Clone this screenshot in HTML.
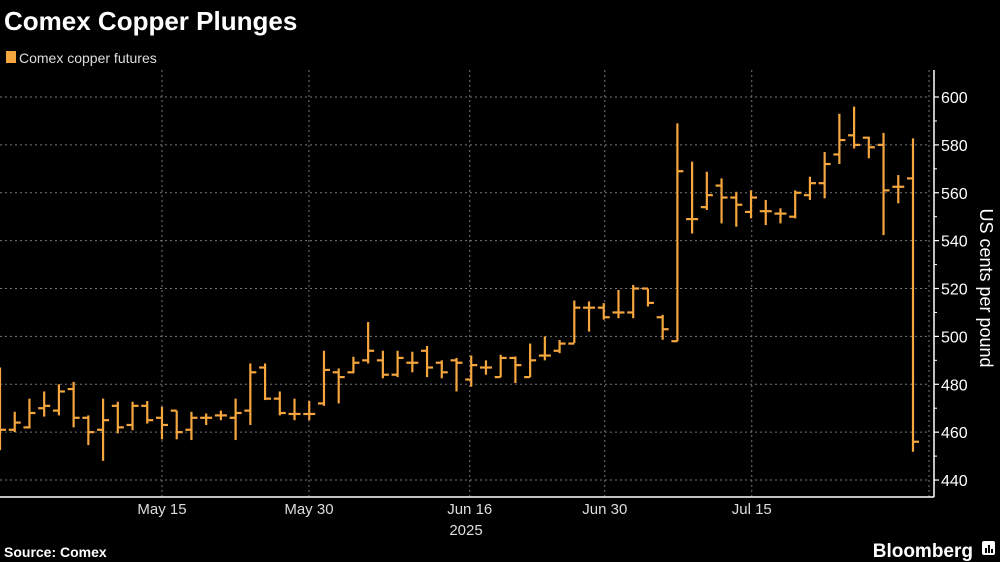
<!DOCTYPE html>
<html><head><meta charset="utf-8">
<style>
html,body{margin:0;padding:0;background:#000;}
body{width:1000px;height:562px;overflow:hidden;font-family:"Liberation Sans",sans-serif;}
</style></head>
<body>
<svg id="chart" width="1000" height="562" xmlns="http://www.w3.org/2000/svg" style="display:block;background:#000">
<text x="4" y="30" fill="#fff" font-family="Liberation Sans, sans-serif" font-weight="bold" font-size="26">Comex Copper Plunges</text>
<rect x="6" y="51" width="10" height="12" fill="#f5a63f"/>
<text x="19" y="63" fill="#ddd" font-family="Liberation Sans, sans-serif" font-size="14">Comex copper futures</text>
<g id="grid"></g>
<g id="axes"></g>
<g id="bars"></g>
<text transform="translate(980,288) rotate(90)" text-anchor="middle" fill="#fff" font-family="Liberation Sans, sans-serif" font-size="18">US cents per pound</text>
<text x="466" y="535" text-anchor="middle" fill="#ddd" font-family="Liberation Sans, sans-serif" font-size="15">2025</text>
<text x="4" y="557" fill="#fff" font-family="Liberation Sans, sans-serif" font-weight="bold" font-size="14">Source: Comex</text>
<text x="973" y="557" text-anchor="end" fill="#fff" font-family="Liberation Sans, sans-serif" font-weight="bold" font-size="19">Bloomberg</text>
<g>
<rect x="982" y="541" width="13" height="14" rx="2" fill="#fff"/>
<rect x="985" y="548" width="2" height="5" fill="#000"/><rect x="988" y="545" width="2" height="8" fill="#000"/><rect x="991" y="549" width="2" height="4" fill="#000"/>
</g>
</svg>
<script>
const opens  =[470,461,462,470,469,478,466,461,471,463,471,466,469,461,466,467,466,469,487,474,467.6,467.6,472,485,485,490,490,484,489,494,489,490,482,487,483,491,483,492,494,497,512,512,510,510,520,508,498,549,554,563,558,552,552.3,551.3,550,559,564,576,584,583,580,562.5,566];
const highs  =[487,468.5,474,477,480,481,467,474,472.7,472.7,473,470.6,469,468.5,467.8,469,474,488.7,488.7,477,474,473,494,486.6,491.5,506,494,494,493.6,496,490,491,492,490,492.3,491.6,497,500,498.5,515,514.6,513.9,519.4,521.5,520,509,589,573,568.8,566,560.4,561,557,553.5,561,566.7,577,593,596,583.4,585,567.4,582.7];
const lows   =[452.5,460,461.5,466.5,467,462,454.6,448,459.5,460.8,463.6,457,457,456.7,463,465,456.7,463,473.4,467,465,465,471,472,484.6,488.7,482.5,483,485,483,482.5,477,479,484,483,480.5,483,490,493,497.2,502,507,507.6,507.6,512.5,498.6,497.9,543,552.8,547.2,545.8,549.3,546.5,547.2,549.3,557,557.7,572,578.5,574.4,542.3,555.6,451.8];
const closes =[461,464,468,471,477,466,460,465,462,471,465,463,460,466,466,467,468,485,474,468,467.6,467.6,486,483,489,494,484,491,489,487,485,489,488,487,491,488,490,492,497,512,512,508,510,520,514,503,569,549,559,558,555,558,552.3,551.3,560,564,572,582,580,579,561,562.5,456];
const yTicks=[440,460,480,500,520,540,560,580,600];
const xTickLabels=["May 15","May 30","Jun 16","Jun 30","Jul 15"];
const xTickIdx=[11.0,20.98,31.9,41.07,51.05];

const NS="http://www.w3.org/2000/svg";
const x0=0, step=913/(opens.length-1);
function xs(i){return x0+i*step;}
function ys(v){return 97+(600-v)*2.394;}
function mk(tag,attrs,parent){const e=document.createElementNS(NS,tag);for(const k in attrs)e.setAttribute(k,attrs[k]);parent.appendChild(e);return e;}
const grid=document.getElementById('grid'),axes=document.getElementById('axes'),bars=document.getElementById('bars');
yTicks.forEach(v=>{
  const g=mk('line',{x1:0,x2:930,y1:ys(v),y2:ys(v),stroke:'#777','stroke-width':1,'stroke-dasharray':'2,3'},grid);
  
  
  const t=mk('line',{x1:934,x2:939,y1:ys(v),y2:ys(v),stroke:'#fff','stroke-width':1.2},axes);
  
  
  const l=mk('text',{x:941,y:ys(v)+6,fill:'#fff','font-family':'Liberation Sans, sans-serif','font-size':16},axes);
  l.textContent=v;
  
  
});
for(let v=450;v<600;v+=20){
  const t=mk('line',{x1:934,x2:937,y1:ys(v),y2:ys(v),stroke:'#fff','stroke-width':1},axes);
  
  
}
xTickIdx.forEach((ix,k)=>{
  const g=mk('line',{x1:xs(ix),x2:xs(ix),y1:70,y2:497,stroke:'#777','stroke-width':1,'stroke-dasharray':'2,3'},grid);
  
  
  const l=mk('text',{x:xs(ix),y:514,'text-anchor':'middle',fill:'#ddd','font-family':'Liberation Sans, sans-serif','font-size':15},axes);
  l.textContent=xTickLabels[k];
  
  
});
const rg=mk('line',{x1:929,x2:929,y1:70,y2:497,stroke:'#777','stroke-width':1,'stroke-dasharray':'2,3'},grid);


const ya=mk('line',{x1:934,x2:934,y1:70,y2:497,stroke:'#fff','stroke-width':1.5},axes);


const xa=mk('line',{x1:0,x2:934,y1:497,y2:497,stroke:'#fff','stroke-width':1.5},axes);


const col='#f5a63f';
for(let i=0;i<opens.length;i++){
  const x=xs(i);
  const g=mk('g',{},bars);
  
  
  mk('line',{x1:x,x2:x,y1:ys(highs[i]),y2:ys(lows[i]),stroke:col,'stroke-width':2.2},g);
  mk('line',{x1:x-6,x2:x,y1:ys(opens[i]),y2:ys(opens[i]),stroke:col,'stroke-width':2.2},g);
  mk('line',{x1:x,x2:x+6,y1:ys(closes[i]),y2:ys(closes[i]),stroke:col,'stroke-width':2.2},g);
}
</script>
</body></html>
